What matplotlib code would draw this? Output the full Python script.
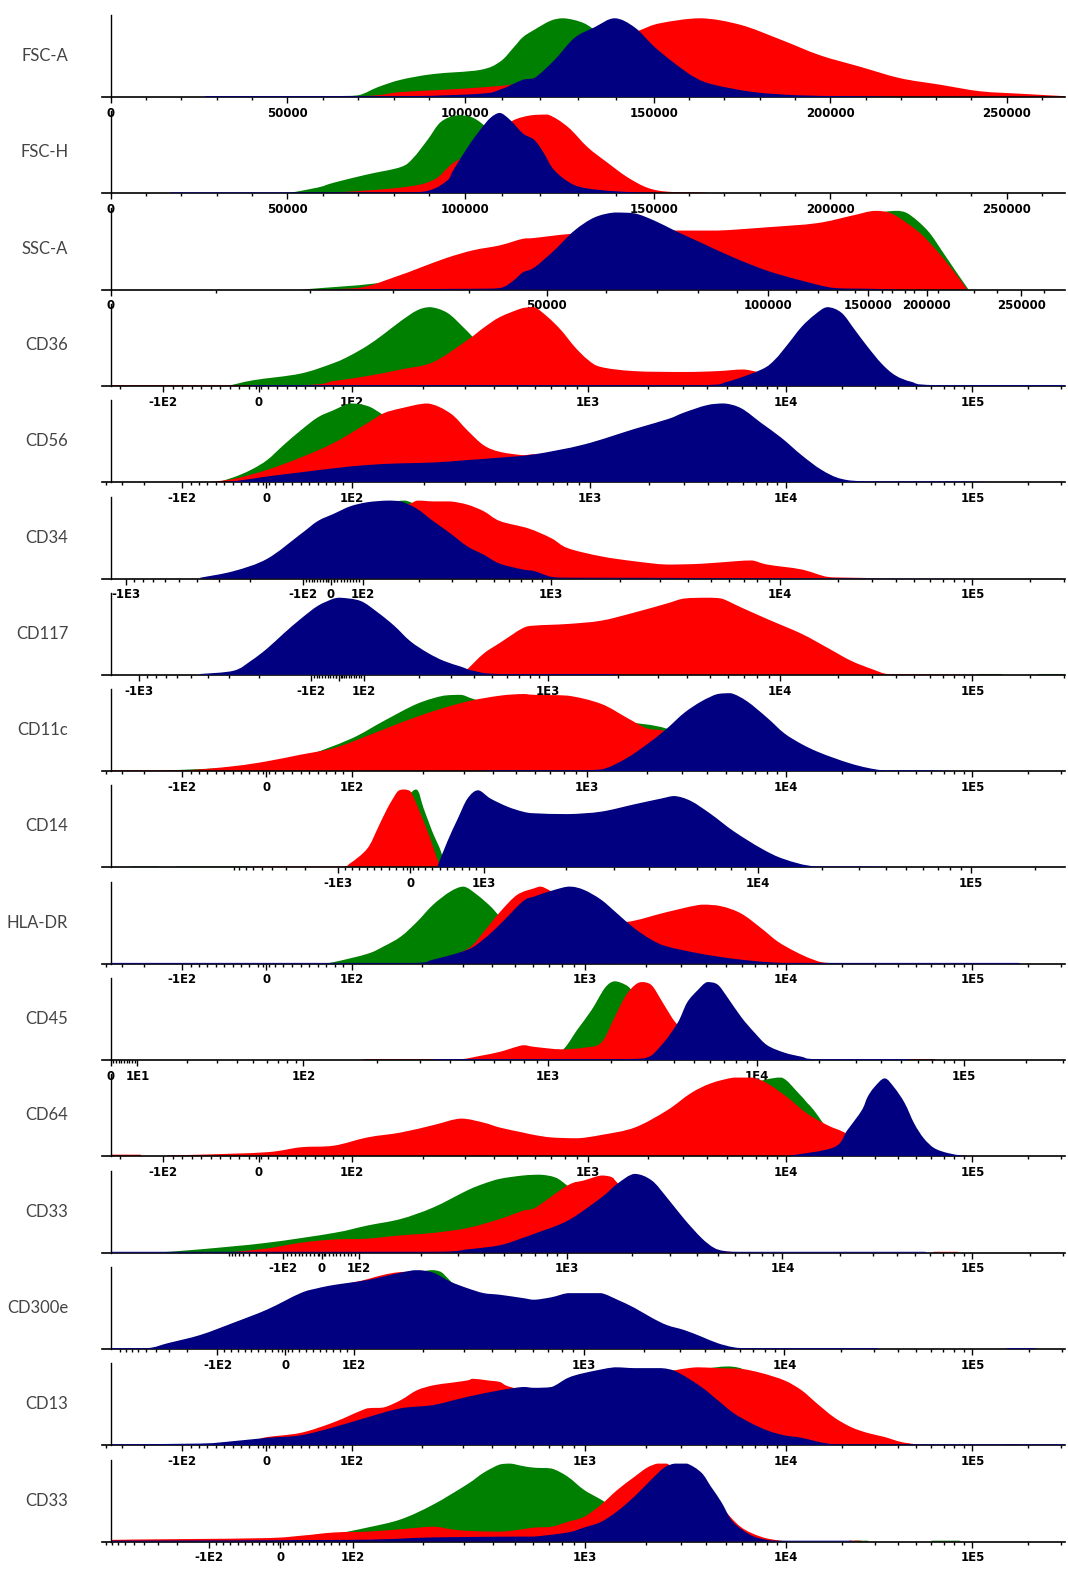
import numpy as np
import matplotlib
matplotlib.use("Agg")
import matplotlib.pyplot as plt
from matplotlib.path import Path
from matplotlib.patches import PathPatch

GREEN = "#008000"
RED = "#ff0000"
BLUE = "#000080"

names = ["FSC-A", "FSC-H", "SSC-A", "CD36", "CD56", "CD34", "CD117", "CD11c",
         "CD14", "HLA-DR", "CD45", "CD64", "CD33", "CD300e", "CD13", "CD33"]

# histogram outlines: (display channel 0-1000, % of axis height)
fsca_green = [(189,0),(230,1),(259,2),(280,12),(304,21),(338,28),(387,33),(408,43),(422,60),(432,73),(444,82),(461,93),(475,96),(496,90),(513,76),(534,55),(555,34),(576,18),(607,7),(639,2),(681,0)]
fsca_red = [(99,1),(259,1),(304,6),(367,10),(419,15),(444,23),(492,43),(534,71),(556,82),(576,90),(618,96),(660,88),(702,70),(743,51),(785,37),(827,23),(869,15),(911,7),(953,4),(1000,1)]
fsca_blue = [(99,1),(304,1),(387,4),(408,9),(432,21),(444,23),(465,45),(486,72),(507,85),(528,96),(549,85),(570,61),(591,41),(612,24),(632,15),(674,6),(722,2),(775,1),(827,0)]

fsch_green = [(185,0),(217,7),(234,13),(269,23),(304,32),(317,43),(332,65),(346,87),(363,95),(380,92),(398,76),(414,55),(429,34),(450,15),(471,5),(503,0)]
fsch_red = [(185,0),(234,1),(304,7),(338,16),(359,37),(387,55),(408,76),(422,89),(440,95),(458,96),(479,81),(500,56),(521,37),(541,20),(562,7),(583,2),(619,1),(628,0)]
fsch_blue = [(63,1),(304,1),(335,4),(353,16),(359,28),(374,56),(387,77),(398,92),(408,98),(419,89),(432,73),(444,65),(454,49),(465,28),(486,10),(513,4),(555,1),(607,0)]

ssca_green = [(199,0),(304,12),(408,46),(513,63),(618,67),(722,76),(785,90),(821,96),(835,93),(856,72),(873,44),(887,20),(899,0)]
ssca_red = [(196,0),(259,2),(297,15),(325,27),(353,39),(380,48),(408,54),(432,62),(444,63),(483,68),(534,71),(591,72),(636,72),(688,76),(740,81),(776,90),(800,96),(818,93),(845,72),(863,51),(881,26),(897,1)]
ssca_blue = [(199,0),(376,1),(408,2),(422,11),(432,21),(444,27),(465,48),(486,72),(507,88),(528,94),(549,93),(570,84),(591,72),(619,57),(653,39),(688,23),(724,11),(758,2),(796,1),(827,0)]

cd36_green = [(123,0),(150,7),(199,15),(234,28),(251,37),(269,49),(286,63),(304,79),(321,92),(335,96),(353,89),(370,71),(380,59),(398,37),(419,18),(440,7),(471,2),(513,0)]
cd36_red = [(0,1),(199,1),(234,6),(269,12),(304,20),(338,29),(374,56),(391,71),(408,84),(432,95),(444,96),(458,84),(472,68),(486,48),(500,32),(514,23),(549,18),(601,17),(636,18),(664,20),(702,10),(722,4),(754,1),(796,0)]
cd36_blue = [(147,1),(619,1),(646,5),(682,20),(696,32),(709,50),(724,72),(738,87),(751,96),(766,89),(780,68),(793,48),(808,27),(822,13),(839,5),(863,1),(1000,1)]

cd56_green = [(112,0),(129,6),(147,15),(164,27),(181,45),(199,63),(217,79),(234,88),(251,96),(269,93),(283,84),(304,67),(325,49),(346,30),(377,12),(408,5),(450,1),(471,0)]
cd56_red = [(102,0),(129,4),(164,15),(199,30),(234,48),(269,72),(286,84),(304,90),(332,96),(356,84),(374,63),(391,45),(408,37),(432,33),(444,34),(471,27),(513,18),(565,10),(618,5),(670,1),(722,0)]
cd56_blue = [(112,0),(129,1),(164,7),(199,12),(234,17),(269,21),(304,23),(338,24),(374,27),(408,30),(444,34),(496,46),(549,65),(584,77),(601,85),(625,94),(643,96),(661,90),(682,72),(703,54),(724,33),(745,15),(766,4),(796,1),(880,1),(932,0)]

cd34_green = [(94,0),(164,10),(199,30),(234,60),(269,85),(293,93),(309,95),(325,85),(356,55),(387,29),(429,10),(471,2),(513,0)]
cd34_red = [(94,0),(199,15),(251,43),(293,76),(321,95),(338,94),(356,94),(374,90),(391,82),(408,70),(438,61),(462,49),(479,37),(514,27),(549,21),(583,17),(619,18),(654,21),(672,22),(688,17),(724,11),(751,2),(775,1),(827,0)]
cd34_blue = [(94,1),(129,9),(164,24),(199,54),(217,70),(234,79),(251,88),(269,93),(290,95),(304,94),(321,85),(338,70),(356,55),(374,39),(391,29),(408,18),(432,11),(444,9),(462,2),(482,1),(932,0)]

cd117_green = [(906,0),(911,1),(932,1),(937,0),(969,0),(974,1),(1000,1)]
cd117_red = [(367,0),(374,7),(391,26),(408,39),(432,57),(444,60),(479,62),(514,66),(549,76),(583,87),(601,93),(625,94),(640,93),(661,82),(688,68),(724,50),(751,33),(776,17),(800,6),(814,1),(838,1),(932,0)]
cd117_blue = [(94,1),(129,5),(147,17),(164,32),(181,50),(199,68),(217,84),(234,93),(241,94),(262,90),(280,76),(297,60),(314,41),(332,27),(349,17),(367,10),(380,5),(408,1),(520,1),(534,0)]

cd11c_green = [(42,0),(147,6),(199,17),(251,39),(286,61),(321,82),(349,92),(367,93),(380,88),(408,79),(471,71),(534,61),(582,52),(618,30),(660,10),(702,2),(744,0)]
cd11c_red = [(0,1),(76,1),(129,6),(164,12),(199,20),(234,28),(269,43),(304,59),(338,73),(374,85),(408,92),(432,94),(444,93),(479,92),(514,82),(541,65),(562,52),(580,49),(607,24),(639,10),(681,2),(722,1),(760,0)]
cd11c_blue = [(387,0),(408,1),(479,1),(514,2),(541,16),(567,37),(583,52),(601,71),(619,85),(636,94),(650,95),(667,85),(688,65),(706,46),(724,33),(740,24),(758,16),(776,9),(793,4),(811,1),(848,1),(890,0)]

cd14_green = [(21,0),(23,1),(50,1),(52,0),(68,0),(70,1),(145,1),(147,0),(262,0),(283,24),(304,73),(320,95),(328,72),(337,44),(346,20),(349,5),(352,0)]
cd14_red = [(147,0),(152,1),(241,1),(251,5),(269,23),(280,48),(290,72),(301,93),(307,95),(314,93),(325,65),(335,35),(342,11),(346,2),(351,0)]
cd14_blue = [(342,0),(353,32),(364,60),(374,84),(385,94),(398,84),(416,74),(432,68),(444,66),(479,65),(514,68),(549,77),(577,84),(591,87),(608,81),(629,65),(653,44),(682,23),(706,10),(740,1),(800,1),(817,0)]

hla_green = [(220,0),(234,2),(269,12),(286,21),(304,33),(321,51),(338,72),(356,88),(370,94),(384,84),(398,70),(405,61),(429,30),(461,12),(492,4),(534,0)]
hla_red = [(317,0),(338,2),(374,18),(391,39),(408,63),(426,84),(444,92),(451,94),(462,88),(492,67),(513,55),(541,51),(583,63),(619,72),(640,70),(661,61),(682,43),(699,27),(717,15),(734,6),(751,1),(796,0)]
hla_blue = [(0,1),(317,1),(338,5),(374,17),(391,30),(408,48),(432,76),(444,82),(465,90),(481,94),(496,90),(514,78),(531,61),(549,43),(567,29),(583,21),(619,12),(653,6),(688,2),(724,1),(951,1),(954,0)]

cd45_green = [(461,0),(476,15),(489,37),(504,61),(518,88),(528,96),(539,92),(546,85),(560,61),(576,30),(597,10),(618,2),(639,0)]
cd45_red = [(264,0),(267,1),(338,1),(367,1),(387,5),(408,10),(432,18),(444,16),(472,13),(496,15),(514,21),(528,52),(539,77),(549,91),(557,95),(567,91),(577,73),(588,52),(594,43),(613,18),(634,6),(660,1),(681,0),(833,0),(835,1),(863,1),(865,0)]
cd45_blue = [(338,0),(340,1),(367,1),(513,1),(559,2),(577,18),(594,45),(604,70),(615,85),(625,95),(636,92),(646,77),(661,52),(675,33),(688,18),(706,9),(724,4),(740,1),(835,1),(838,0)]

cd64_green = [(408,0),(513,10),(618,61),(681,92),(703,96),(720,78),(730,65),(737,56),(754,30),(775,12),(806,2),(827,0)]
cd64_red = [(0,0),(1,2),(31,2),(33,0),(58,0),(60,1),(94,2),(164,5),(199,11),(234,13),(269,23),(304,29),(338,38),(367,46),(391,41),(408,35),(432,29),(444,26),(462,23),(489,22),(514,26),(549,35),(583,56),(608,77),(629,89),(653,96),(672,96),(688,89),(709,72),(730,52),(751,38),(769,29),(796,12),(827,4),(859,1),(896,1),(898,0)]
cd64_blue = [(711,0),(713,1),(758,11),(772,32),(787,56),(793,72),(800,84),(811,95),(821,84),(832,65),(842,40),(852,22),(863,10),(877,4),(891,1),(896,0)]

cd33a_green = [(49,0),(94,4),(164,12),(234,24),(269,33),(304,41),(338,55),(374,76),(391,84),(408,90),(432,94),(450,95),(465,92),(476,84),(513,49),(545,24),(576,10),(618,2),(649,0)]
cd33a_red = [(129,0),(131,1),(164,5),(199,12),(234,16),(269,17),(304,21),(338,24),(374,30),(408,41),(432,51),(444,54),(479,82),(496,88),(514,94),(525,92),(531,85),(555,55),(576,30),(597,12),(618,4),(649,1),(670,0),(861,0),(863,1),(887,1),(889,0)]
cd33a_blue = [(0,0),(2,1),(338,1),(374,4),(408,9),(432,18),(444,23),(479,39),(514,67),(531,84),(549,96),(567,88),(583,67),(601,41),(619,18),(632,6),(643,2),(660,1),(853,1),(855,0)]

cd300e_green = [(147,0),(199,59),(304,88),(335,96),(346,94),(367,73),(408,55),(513,43),(618,6),(670,0)]
cd300e_red = [(147,0),(199,61),(269,85),(293,92),(309,94),(325,93),(356,73),(408,55),(461,49),(513,37),(618,6),(670,0)]
cd300e_blue = [(0,0),(2,1),(39,1),(60,7),(94,17),(129,32),(164,48),(199,68),(217,74),(234,78),(269,84),(304,93),(321,96),(338,93),(356,82),(374,74),(391,68),(408,66),(432,62),(444,60),(462,63),(479,68),(496,68),(514,68),(531,60),(549,50),(567,38),(583,29),(601,23),(619,15),(636,7),(653,2),(671,1),(803,1),(805,0),(938,0),(940,1),(968,1),(970,0)]

cd13_green = [(199,0),(304,37),(408,67),(461,67),(565,88),(618,93),(645,96),(660,94),(692,73),(743,37),(796,10),(848,0)]
cd13_red = [(147,0),(160,9),(199,15),(234,28),(269,45),(286,46),(304,55),(321,67),(338,73),(356,76),(374,79),(380,81),(395,79),(408,77),(419,71),(461,61),(513,73),(565,85),(594,92),(615,95),(636,94),(661,93),(682,88),(706,79),(724,67),(740,51),(758,34),(776,22),(793,15),(811,10),(828,4),(845,1),(859,0),(936,0),(938,1),(951,1),(953,0)]
cd13_blue = [(0,0),(2,1),(94,2),(129,5),(164,9),(199,12),(234,22),(269,34),(304,45),(338,49),(374,59),(408,67),(432,71),(444,70),(462,71),(479,82),(496,88),(528,95),(549,94),(577,94),(594,89),(619,71),(636,55),(653,39),(671,27),(688,18),(706,12),(724,9),(751,2),(775,1),(1000,1)]

cd33b_green = [(147,0),(199,4),(234,9),(269,17),(304,27),(338,45),(374,70),(391,84),(408,94),(419,95),(432,92),(444,90),(462,89),(479,79),(496,63),(514,51),(534,37),(565,18),(597,6),(639,1),(660,0),(777,0),(779,1),(793,1),(795,0),(859,0),(861,1),(889,1),(891,0)]
cd33b_red = [(0,0),(2,2),(157,4),(199,7),(234,11),(269,12),(304,15),(338,18),(356,15),(374,13),(408,12),(432,15),(444,17),(462,18),(479,24),(496,30),(514,45),(531,63),(549,79),(562,90),(573,95),(583,95),(618,67),(639,43),(660,18),(681,6),(702,1),(722,0),(773,0),(775,1),(785,1),(787,0)]
cd33b_blue = [(0,0),(2,1),(251,2),(338,5),(432,6),(444,6),(479,11),(496,17),(514,24),(531,37),(549,55),(567,76),(580,90),(591,95),(604,95),(619,84),(629,67),(640,48),(650,27),(661,15),(674,6),(688,2),(702,1),(776,1),(778,0)]

# axis ticks: (label, value, display channel)
lin_ticks = [("0", 0, 0), ("50000", 50000, 185), ("100000", 100000, 371),
             ("150000", 150000, 569), ("200000", 200000, 754), ("250000", 250000, 939)]
ssc_ticks = [("0", 0, 0), ("50000", 50000, 457), ("100000", 100000, 689),
             ("150000", 150000, 794), ("200000", 200000, 855), ("250000", 250000, 954)]
ssc_minor = [110, 209, 296, 376, 519, 572, 615, 656, 718, 741, 761, 780, 808, 819,
             832, 842, 867, 905, 929, 978]
cd36_ticks = [("-1E2", -100, 55), ("0", 0, 155), ("1E2", 100, 253), ("1E3", 1e3, 500), ("1E4", 1e4, 708), ("1E5", 1e5, 903)]
cd56_ticks = [("-1E2", -100, 75), ("0", 0, 163), ("1E2", 100, 253), ("1E3", 1e3, 502), ("1E4", 1e4, 708), ("1E5", 1e5, 903)]
cd34_ticks = [("-1E3", -1000, 16), ("-1E2", -100, 202), ("0", 0, 231), ("1E2", 100, 264), ("1E3", 1e3, 461), ("1E4", 1e4, 701), ("1E5", 1e5, 903)]
cd117_ticks = [("-1E3", -1000, 30), ("-1E2", -100, 210), ("", 0, 239), ("1E2", 100, 265), ("1E3", 1e3, 458), ("1E4", 1e4, 701), ("1E5", 1e5, 903)]
cd11c_ticks = [("-1E2", -100, 75), ("0", 0, 163), ("1E2", 100, 253), ("1E3", 1e3, 499), ("1E4", 1e4, 708), ("1E5", 1e5, 903)]
cd14_ticks = [("-1E3", -1000, 238), ("0", 0, 314), ("1E3", 1e3, 391), ("1E4", 1e4, 678), ("1E5", 1e5, 901)]
hla_ticks = [("-1E2", -100, 75), ("0", 0, 163), ("1E2", 100, 253), ("1E3", 1e3, 497), ("1E4", 1e4, 708), ("1E5", 1e5, 903)]
cd45_ticks = [("0", 0, 0), ("1E1", 10, 28), ("1E2", 100, 202), ("1E3", 1e3, 458), ("1E4", 1e4, 677), ("1E5", 1e5, 894)]
cd33a_ticks = [("-1E2", -100, 181), ("0", 0, 221), ("1E2", 100, 260), ("1E3", 1e3, 478), ("1E4", 1e4, 704), ("1E5", 1e5, 903)]
cd300e_ticks = [("-1E2", -100, 112), ("0", 0, 183), ("1E2", 100, 255), ("1E3", 1e3, 496), ("1E4", 1e4, 706), ("1E5", 1e5, 903)]
cd13_ticks = [("-1E2", -100, 75), ("0", 0, 163), ("1E2", 100, 253), ("1E3", 1e3, 497), ("1E4", 1e4, 708), ("1E5", 1e5, 903)]
cd33b_ticks = [("-1E2", -100, 103), ("0", 0, 178), ("1E2", 100, 254), ("1E3", 1e3, 497), ("1E4", 1e4, 708), ("1E5", 1e5, 903)]

panels = [
    (fsca_green, fsca_red, fsca_blue, lin_ticks),
    (fsch_green, fsch_red, fsch_blue, lin_ticks),
    (ssca_green, ssca_red, ssca_blue, ssc_ticks),
    (cd36_green, cd36_red, cd36_blue, cd36_ticks),
    (cd56_green, cd56_red, cd56_blue, cd56_ticks),
    (cd34_green, cd34_red, cd34_blue, cd34_ticks),
    (cd117_green, cd117_red, cd117_blue, cd117_ticks),
    (cd11c_green, cd11c_red, cd11c_blue, cd11c_ticks),
    (cd14_green, cd14_red, cd14_blue, cd14_ticks),
    (hla_green, hla_red, hla_blue, hla_ticks),
    (cd45_green, cd45_red, cd45_blue, cd45_ticks),
    (cd64_green, cd64_red, cd64_blue, cd36_ticks),
    (cd33a_green, cd33a_red, cd33a_blue, cd33a_ticks),
    (cd300e_green, cd300e_red, cd300e_blue, cd300e_ticks),
    (cd13_green, cd13_red, cd13_blue, cd13_ticks),
    (cd33b_green, cd33b_red, cd33b_blue, cd33b_ticks),
]

XMIN, XMAX = -9, 1000


def minor_ticks(ticks):
    out = []
    for (_, v1, c1), (_, v2, c2) in zip(ticks[:-1], ticks[1:]):
        if v1 > 0 and v2 == 10 * v1:
            out += [c1 + (c2 - c1) * np.log10(m) for m in range(2, 10)]
        elif v2 < 0 and v1 == 10 * v2:
            out += [c2 - (c2 - c1) * np.log10(m) for m in range(2, 10)]
        else:
            big = max(abs(v1), abs(v2))
            step = 10000 if big >= 10000 else big / 10
            n = int(round((v2 - v1) / step))
            out += [c1 + (c2 - c1) * k / n for k in range(1, n)]
    # left of first label
    (_, v0, c0), (_, v1, c1) = ticks[0], ticks[1]
    if v0 < 0:
        span = 1.5 * (c1 - c0)
        out += [c0 - span * np.log10(m) for m in range(2, 10)]
    # right of last label
    (_, vp, cp), (_, vl, cl) = ticks[-2], ticks[-1]
    if vp > 0 and vl == 10 * vp:
        out += [cl + (cl - cp) * np.log10(m) for m in range(2, 10)]
    else:
        step = (cl - cp) / 5
        out += [cl + step * k for k in range(1, 20)]
    # the little cluster at zero
    zero = [c for (_, v, c) in ticks if v == 0]
    if zero and ticks[0][1] != 0:
        out += [zero[0] - 3, zero[0] + 3]
    return [c for c in out if XMIN < c <= XMAX]


def outline(points):
    # smooth bezier outline through the read points, closed on the baseline
    p = np.array(points, float)
    n = len(p)
    verts = [(p[0, 0], 0.0), tuple(p[0])]
    codes = [Path.MOVETO, Path.LINETO]
    for i in range(n - 1):
        a, b = p[i], p[i + 1]
        prev = p[i - 1] if i > 0 else a
        nxt = p[i + 2] if i + 2 < n else b
        c1 = a + (b - prev) / 6.0
        c2 = b - (nxt - a) / 6.0
        lo, hi = min(a[1], b[1]), max(a[1], b[1])
        for c in (c1, c2):
            c[0] = np.clip(c[0], a[0], b[0])
            c[1] = np.clip(c[1], lo, hi)
        verts += [tuple(c1), tuple(c2), tuple(b)]
        codes += [Path.CURVE4] * 3
    verts += [(p[-1, 0], 0.0), (p[0, 0], 0.0)]
    codes += [Path.LINETO, Path.CLOSEPOLY]
    return Path(verts, codes)


fig = plt.figure(figsize=(10.68, 15.69), dpi=100)
W, H = 1068.0, 1569.0

for i, (name, (g, r, b, ticks)) in enumerate(zip(names, panels)):
    base = 97 + 96.3 * i
    ax = fig.add_axes([102 / W, 1 - base / H, 963 / W, 82 / H])
    for series, col, z in ((g, GREEN, 1), (r, RED, 2), (b, BLUE, 3)):
        ax.add_patch(PathPatch(outline(series), facecolor=col, lw=0, zorder=z))
    ax.set_xlim(XMIN, XMAX)
    ax.set_ylim(0, 100)
    ax.spines["left"].set_position(("data", 0))
    ax.spines["top"].set_visible(False)
    ax.spines["right"].set_visible(False)
    ax.spines["left"].set_linewidth(1.0)
    ax.spines["bottom"].set_linewidth(1.2)
    ax.set_yticks([])
    ax.set_xticks([c for (_, _, c) in ticks])
    ax.set_xticklabels([t for (t, _, _) in ticks], fontsize=8.5, fontweight="bold",
                       family="DejaVu Sans")
    if i == 2:
        ax.set_xticks(ssc_minor, minor=True)
    else:
        ax.set_xticks(minor_ticks(ticks), minor=True)
    ax.tick_params(axis="x", which="major", direction="out", length=4.5, width=1.0, pad=2.5)
    ax.tick_params(axis="x", which="minor", direction="out", length=2.3, width=1.0)
    ax.set_facecolor("none")
    ax.text(-0.035, 0.5, name, transform=ax.transAxes, ha="right", va="center",
            fontsize=12, family="Lato", color="#444444")

fig.savefig("out.png", dpi=100)
